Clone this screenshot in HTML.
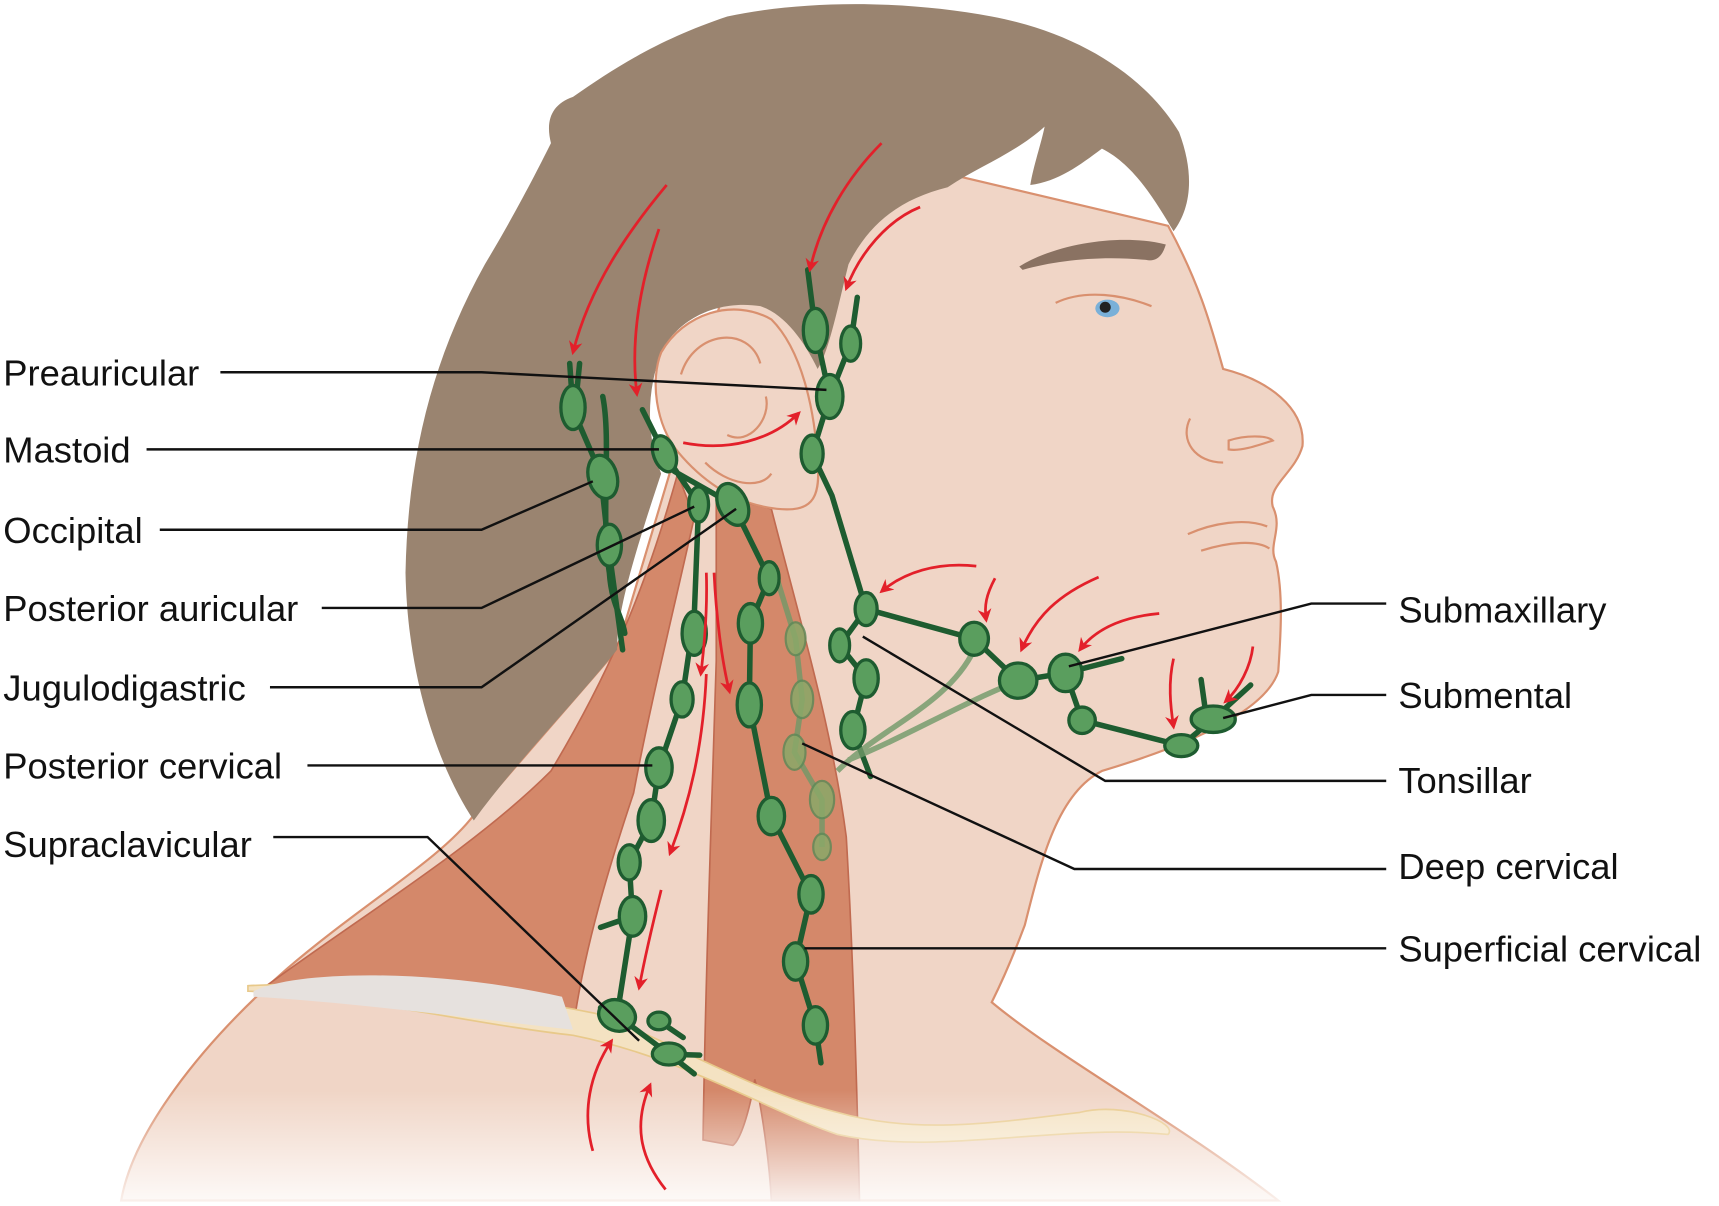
<!DOCTYPE html>
<html><head><meta charset="utf-8"><style>
html,body{margin:0;padding:0;background:#fff;}
svg{display:block;}
text{font-family:"Liberation Sans",sans-serif;font-size:33px;fill:#111;}
</style></head><body>
<svg width="1719" height="1206" viewBox="0 0 1560 1095" preserveAspectRatio="none" xmlns="http://www.w3.org/2000/svg">
<defs>
<marker id="ah" viewBox="0 0 10 10" refX="8" refY="5" markerWidth="5" markerHeight="5" orient="auto">
<path d="M0,0 L10,5 L0,10 L3,5 Z" fill="#e3202a"/></marker>
<linearGradient id="fade" x1="0" y1="0" x2="0" y2="1">
<stop offset="0" stop-color="#fff" stop-opacity="0"/><stop offset="1" stop-color="#fff" stop-opacity="0.9"/></linearGradient>
</defs>
<path d="M1060,205 C1090,260 1100,300 1110,335 C1150,345 1185,370 1182,405 C1175,430 1150,440 1155,460 C1165,480 1150,495 1158,510 C1165,540 1162,580 1160,610 C1150,640 1100,670 1000,700 C960,720 945,780 930,840 C915,880 905,900 900,910 C960,960 1070,1020 1160,1090 L110,1090 C120,1030 180,950 260,880 C330,820 400,780 430,740 L560,590 L700,120 Z" fill="#f0d5c6" stroke="#d9906f" stroke-width="2"/>
<path d="M615,430 C590,520 560,600 500,700 C430,770 330,830 235,900 L520,935 C530,860 555,780 575,720 C590,640 610,560 630,470 Z" fill="#d4886a" stroke="#c06a50" stroke-width="1.5"/>
<path d="M650,450 L700,462 C725,560 755,660 768,760 C775,880 778,1000 780,1090 L700,1090 C698,1050 690,1000 685,980 C680,1010 672,1035 665,1040 L638,1035 C640,900 645,760 650,600 Z" fill="#d4886a" stroke="#c06a50" stroke-width="1.5"/>
<path d="M225,900 C330,905 430,930 520,940 C620,960 700,1010 760,1030 C850,1050 960,1020 1060,1030 C1070,1020 1020,1000 980,1010 C900,1020 830,1030 760,1010 C680,990 620,950 540,920 C440,900 320,890 225,895 Z" fill="#f4e2c2" stroke="#e8c98a" stroke-width="1.5"/>
<path d="M230,900 C270,880 400,880 510,905 L520,935 C430,925 320,910 230,905 Z" fill="#e6e1de"/>
<path d="M430,745 C400,700 370,620 368,520 C370,420 390,330 440,240 C470,190 490,150 500,130 C495,110 500,95 520,88 C560,60 600,35 660,15 C730,0 820,0 900,15 C980,30 1040,70 1070,120 C1085,160 1080,190 1065,210 C1050,185 1030,150 1000,135 C980,150 960,165 935,168 C938,150 945,130 948,115 C920,140 890,150 860,170 C820,180 790,200 770,240 C760,280 752,320 742,335 C730,310 712,285 690,278 C650,272 615,290 600,320 C585,360 588,400 600,430 C570,520 560,560 560,590 C520,640 470,690 430,745 Z" fill="#9a8470"/>
<path d="M925,242 C960,220 1020,212 1058,222 C1055,232 1050,238 1040,236 C1000,232 960,236 928,245 Z" fill="#8a7262"/>
<path d="M600,320 C620,285 665,270 700,290 C730,320 740,380 742,420 C745,455 735,465 705,462 C670,458 640,440 615,410 C595,385 590,345 600,320 Z" fill="#f0d5c6" stroke="#d9906f" stroke-width="2"/>
<path d="M618,340 C630,300 680,295 690,330 M640,420 C660,440 690,445 700,430 M660,395 C680,405 700,380 695,360" fill="none" stroke="#d9906f" stroke-width="2"/>
<path d="M958,275 C985,262 1020,268 1045,278" fill="none" stroke="#d9906f" stroke-width="2"/>
<ellipse cx="1005" cy="280" rx="11" ry="8" fill="#7ab0d8"/><circle cx="1003" cy="279" r="5" fill="#222"/>
<path d="M1115,400 C1130,395 1150,395 1155,400 C1140,405 1125,410 1115,408 Z M1080,380 C1070,400 1085,420 1110,420" fill="none" stroke="#d9906f" stroke-width="2"/>
<path d="M1078,485 C1100,475 1130,470 1150,478 M1090,500 C1115,492 1140,490 1152,498" fill="none" stroke="#d9906f" stroke-width="2"/>
<rect x="100" y="990" width="1100" height="105" fill="url(#fade)"/>
<g fill="none" stroke="#1e5c30" stroke-width="5" stroke-linecap="round">
<path d="M517,330 L520,372 L545,430 L552,495 L565,590 M526,330 L522,370 M547,360 C555,400 545,470 553,520 C555,550 565,560 567,575"/>
<path d="M583,372 L603,412 L634,458 L630,560 L619,635 L598,697 L591,745 L571,783 L574,832 L560,922 L607,957 L630,975 M612,428 L665,458 L698,525 L681,566 L680,640 L700,741 L736,812 L722,873 L740,931 L745,965 M545,842 L574,832 M545,915 L560,922 M598,927 L620,942 M598,957 L635,958"/>
<path d="M733,245 L740,300 L753,360 L737,412 L755,450 L786,553 L762,586 L786,616 L774,663 L790,705 M778,270 L772,312 L753,360 M786,553 L884,580 L924,618 L967,611 L982,654 L1072,677 L1101,653 L1135,622 M967,611 L1018,598 M1090,617 L1095,653"/>
</g>
<g fill="none" stroke="#6f9968" stroke-width="5" opacity="0.8">
<path d="M705,525 L722,580 L728,635 L721,683 L746,726 L746,769 M760,700 C800,660 860,640 884,590 M770,690 C820,670 870,640 920,620"/>
</g>
<g fill="#5a9e5e" stroke="#1e5c30" stroke-width="3">
<ellipse cx="520" cy="370" rx="11" ry="20"/>
<ellipse cx="547" cy="433" rx="13" ry="20" transform="rotate(-15 547 433)"/>
<ellipse cx="553" cy="495" rx="11" ry="19"/>
<ellipse cx="603" cy="412" rx="10" ry="17" transform="rotate(-20 603 412)"/>
<ellipse cx="634" cy="458" rx="9" ry="16"/>
<ellipse cx="665" cy="458" rx="13" ry="20" transform="rotate(-25 665 458)"/>
<ellipse cx="740" cy="300" rx="11" ry="20"/>
<ellipse cx="772" cy="312" rx="9" ry="16"/>
<ellipse cx="753" cy="360" rx="12" ry="20"/>
<ellipse cx="737" cy="412" rx="10" ry="17"/>
<ellipse cx="630" cy="575" rx="11" ry="20"/>
<ellipse cx="619" cy="635" rx="10" ry="16"/>
<ellipse cx="598" cy="697" rx="12" ry="18"/>
<ellipse cx="591" cy="745" rx="12" ry="19"/>
<ellipse cx="571" cy="783" rx="10" ry="16"/>
<ellipse cx="574" cy="832" rx="12" ry="18"/>
<ellipse cx="560" cy="922" rx="17" ry="14" transform="rotate(20 560 922)"/>
<ellipse cx="607" cy="957" rx="15" ry="10"/>
<ellipse cx="598" cy="927" rx="10" ry="8"/>
<ellipse cx="698" cy="525" rx="9" ry="15"/>
<ellipse cx="681" cy="566" rx="11" ry="18"/>
<ellipse cx="680" cy="640" rx="11" ry="20"/>
<ellipse cx="700" cy="741" rx="12" ry="17"/>
<ellipse cx="736" cy="812" rx="11" ry="17"/>
<ellipse cx="722" cy="873" rx="11" ry="17"/>
<ellipse cx="740" cy="931" rx="11" ry="17"/>
<ellipse cx="786" cy="553" rx="10" ry="15"/>
<ellipse cx="762" cy="586" rx="9" ry="15"/>
<ellipse cx="786" cy="616" rx="11" ry="17"/>
<ellipse cx="774" cy="663" rx="11" ry="17"/>
<ellipse cx="884" cy="580" rx="13" ry="15"/>
<ellipse cx="924" cy="618" rx="17" ry="16"/>
<ellipse cx="967" cy="611" rx="15" ry="17"/>
<ellipse cx="982" cy="654" rx="12" ry="12"/>
<ellipse cx="1072" cy="677" rx="15" ry="10"/>
<ellipse cx="1101" cy="653" rx="20" ry="12"/>
</g>
<g fill="#8aa868" stroke="#5f8a58" stroke-width="2" opacity="0.85">
<ellipse cx="722" cy="580" rx="9" ry="15"/>
<ellipse cx="728" cy="635" rx="10" ry="17"/>
<ellipse cx="721" cy="683" rx="10" ry="16"/>
<ellipse cx="746" cy="726" rx="11" ry="17"/>
<ellipse cx="746" cy="769" rx="8" ry="12"/>
</g>
<g fill="none" stroke="#e3202a" stroke-width="2.5" marker-end="url(#ah)">
<path d="M605,168 C570,210 535,260 520,320"/>
<path d="M598,208 C580,260 572,310 578,358"/>
<path d="M800,130 C770,160 745,200 735,245"/>
<path d="M835,188 C805,200 780,230 768,262"/>
<path d="M620,402 C660,410 700,400 725,375"/>
<path d="M886,514 C850,510 820,520 800,537"/>
<path d="M903,525 C895,540 893,550 895,563"/>
<path d="M997,524 C960,540 940,560 927,590"/>
<path d="M1052,557 C1020,560 995,570 980,590"/>
<path d="M1065,598 C1060,620 1062,640 1065,660"/>
<path d="M1137,587 C1135,605 1125,625 1112,637"/>
<path d="M641,520 C642,550 640,580 636,612"/>
<path d="M648,520 C650,560 655,600 662,628"/>
<path d="M641,612 C638,680 625,730 608,775"/>
<path d="M600,808 C592,840 585,870 580,897"/>
<path d="M538,1045 C528,1010 535,975 555,945"/>
<path d="M604,1080 C580,1050 575,1020 590,985"/>
</g>
<g fill="none" stroke="#111" stroke-width="2.2">
<path d="M200,338 L437,338 L750,354"/>
<path d="M133,408 L598,408"/>
<path d="M145,481 L437,481 L538,437"/>
<path d="M292,552 L437,552 L630,460"/>
<path d="M245,624 L437,624 L668,462"/>
<path d="M279,695 L592,695"/>
<path d="M248,760 L388,760 L580,945"/>
<path d="M1258,548 L1190,548 L970,605"/>
<path d="M1258,631 L1190,631 L1110,652"/>
<path d="M1258,709 L1003,709 L783,578"/>
<path d="M1258,789 L975,789 L728,675"/>
<path d="M1258,861 L730,861"/>
</g>
<text x="3" y="350">Preauricular</text>
<text x="3" y="420">Mastoid</text>
<text x="3" y="493">Occipital</text>
<text x="3" y="564">Posterior auricular</text>
<text x="3" y="636">Jugulodigastric</text>
<text x="3" y="707">Posterior cervical</text>
<text x="3" y="778">Supraclavicular</text>
<text x="1269" y="565">Submaxillary</text>
<text x="1269" y="643">Submental</text>
<text x="1269" y="720">Tonsillar</text>
<text x="1269" y="798">Deep cervical</text>
<text x="1269" y="873">Superficial cervical</text>
</svg>
</body></html>
